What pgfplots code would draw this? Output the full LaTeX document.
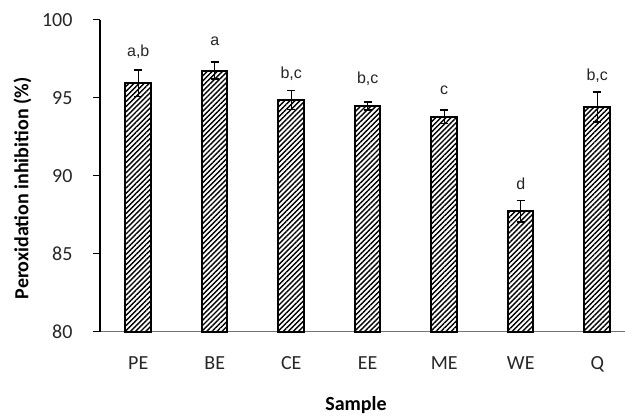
\documentclass[border=0pt]{standalone}
\usepackage{pgfplots}
\pgfplotsset{compat=1.18}
\usepackage{fontspec}
\setmainfont{Carlito}
\newfontfamily\arial{Liberation Sans}
\usetikzlibrary{patterns.meta,calc}

\pgfplotstableread{
x val err
0 95.93 0.85
1 96.74 0.54
2 94.86 0.60
3 94.47 0.26
4 93.78 0.43
5 87.72 0.70
6 94.40 0.97
}\bars

\pgfplotstableread{
x y lab
0 97.95 {a,b}
1 98.59 {a}
2 96.56 {b,c}
3 96.24 {b,c}
4 95.45 {c}
5 89.51 {d}
6 96.41 {b,c}
}\letters

\begin{document}
\begin{tikzpicture}
\begin{axis}[
  name=ax,
  scale only axis,
  width=535.5pt, height=312pt,
  xmin=-0.5, xmax=6.5, ymin=80, ymax=100,
  axis lines*=left,
  x axis line style={draw=black!55, line width=1.1pt},
  y axis line style={draw=black, line width=1.1pt},
  xtick={0,...,6},
  xticklabels={PE,BE,CE,EE,ME,WE,Q},
  xtick style={draw=none},
  ytick={80,85,90,95,100},
  ytick style={draw=black, line width=0.8pt},
  tick align=outside,
  major tick length=7pt,
  /pgf/number format/assume math mode=true,
  ticklabel style={font=\fontsize{20}{22}\selectfont, text=black!85},
  yticklabel style={anchor=east, xshift=-17pt},
  xticklabel style={anchor=base, yshift=-30.3pt},
  ylabel={\bfseries Peroxidation inhibition (\%)},
  xlabel={\bfseries Sample},
  label style={font=\fontsize{20}{22}\selectfont, text=black},
  ylabel style={at={(axis description cs:-0.1447,0.459)}, anchor=center},
  xlabel style={at={(axis description cs:0.478,-0.236)}, anchor=center},
  clip=false,
]
\addplot[ybar, bar width=25.5pt, bar shift=0pt, draw=black, line width=2pt,
  pattern={Lines[angle=45, distance=3.6pt, line width=1.4pt]},
  error bars/.cd, y dir=both, y explicit,
  error bar style={line width=1.4pt, black},
  error mark options={rotate=90, mark size=4.2pt, line width=1.4pt}]
  table[x=x, y=val, y error=err] {\bars};
\addplot[draw=none, mark=none, nodes near coords, point meta=explicit symbolic,
  nodes near coords style={font=\arial\fontsize{16}{18}\selectfont, text=black!85, anchor=center}]
  table[x=x, y=y, meta=lab] {\letters};
\end{axis}
\pgfresetboundingbox
\path ($(ax.south west)+(-100pt,-84.3pt)$) rectangle ($(ax.south west)+(525pt,331.7pt)$);
\end{tikzpicture}
\end{document}
